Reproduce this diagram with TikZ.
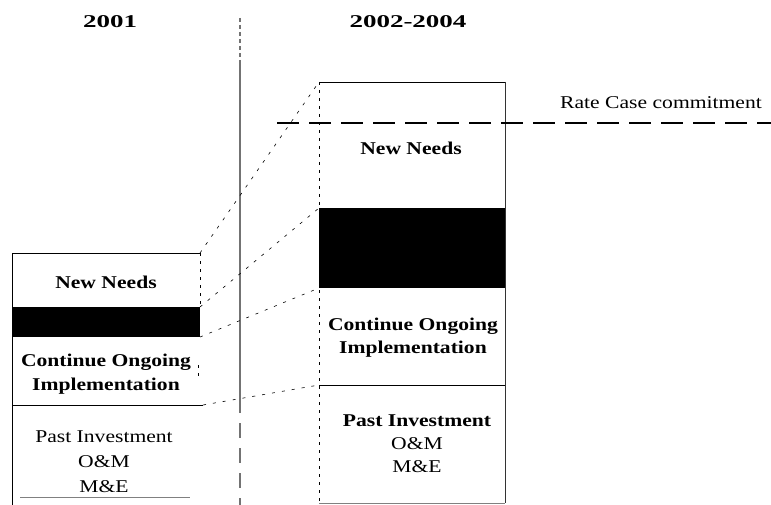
\documentclass[tikz,border=0pt]{standalone}
\usepackage{fontspec}
\setmainfont{Liberation Serif}
\newfontfamily\boxfont[FakeStretch=1.2]{Liberation Serif}
\newfontfamily\yearfont[FakeStretch=1.5]{Liberation Serif}
\usetikzlibrary{calc}

\begin{document}
\begin{tikzpicture}[x=1pt,y=-1pt,
    seg/.style={inner sep=0pt,outer sep=0pt,minimum width=188pt},
    band/.style={seg,fill=black},
    lbl/.style={font=\boxfont\fontsize{18}{24}\selectfont,align=center,inner sep=0pt},
    lblb/.style={lbl,font=\boxfont\bfseries\fontsize{18}{24}\selectfont},
    year/.style={font=\yearfont\bfseries\fontsize{18}{22}\selectfont,inner sep=0pt},
    link/.style={semithick,dash pattern=on 3pt off 7pt},
    frameside/.style={thin,dash pattern=on 3pt off 5pt}]
    \path[use as bounding box] (0,0) rectangle (771,505);

    \node[seg,minimum height=54pt] (lnew) at (106,280) {};
    \node[band,minimum height=30pt] (lband) at (106,322) {};
    \node[seg,minimum height=68pt] (lcont) at (106,371) {};
    \node[seg,minimum height=92pt] (lpast) at (106,451) {};
    \coordinate (lfoot) at (12,505);

    \node[seg,minimum width=186pt,minimum height=126pt] (rnew) at (412,145) {};
    \node[band,minimum width=186pt,minimum height=80pt] (rband) at (412,248) {};
    \node[seg,minimum width=186pt,minimum height=97pt] (rcont) at (412,336.5) {};
    \node[seg,minimum width=186pt,minimum height=118pt] (rpast) at (412,444) {};

    \draw[thick] (lnew.north east) -- (lnew.north west) -- (lfoot);
    \draw[frameside] (lnew.north east) -- (lnew.south east);
    \draw[frameside] ($(lcont.east)+(-2,-6)$) -- ($(lcont.east)+(-2,6)$);
    \draw[thick] (lpast.north west) -- ([xshift=3pt]lpast.north east);
    \draw[gray] ([xshift=8pt]lpast.south west) -- ([xshift=-10pt]lpast.south east);

    \draw[thick] (rnew.north west) -- (rnew.north east);
    \draw[semithick,black!80] (rnew.north east) -- (rpast.south east);
    \draw[frameside] (rnew.north west) -- (rpast.south west);
    \draw[thick] (rpast.north west) -- (rpast.north east);
    \draw[gray] (rpast.south west) -- (rpast.south east);

    \coordinate (dtop) at (240,18);
    \coordinate (dmid1) at (240,62);
    \coordinate (dmid2) at (240,398);
    \coordinate (dfoot) at (240,505);
    \draw[black!55,line width=1.2pt,dash pattern=on 4pt off 3pt] (dtop) -- (dmid1);
    \draw[black!55,line width=1.2pt] (dmid1) -- (dmid2);
    \draw[black!55,line width=1.2pt,dash pattern=on 15pt off 10pt] (dmid2) -- (dfoot);

    \coordinate (rstart) at (277,123);
    \coordinate (rend) at (771,123);
    \draw[line width=2.6pt,dash pattern=on 22pt off 10pt] (rstart) -- (rend);
    \node[lbl] (rlabel) at (661,103) {Rate Case commitment};

    \draw[link] (lnew.north east) -- (rnew.north west);
    \draw[link] (lband.north east) -- (rband.north west);
    \draw[link] (lband.south east) -- (rband.south west);
    \draw[link] ([xshift=3pt]lpast.north east) -- (rpast.north west);

    \node[year] (yleft) at (110,22) {2001};
    \node[year] (yright) at (408,22) {2002-2004};

    \node[lblb] (tlnew) at (106,282) {New Needs};
    \node[lblb] (tlcont) at (106,374) {Continue Ongoing\\Implementation};
    \node[lbl,font=\boxfont\fontsize{18}{25}\selectfont] (tlpast) at (104,462) {Past Investment\\O\&M\\M\&E};

    \node[lblb] (trnew) at (411,148) {New Needs};
    \node[lblb,font=\boxfont\bfseries\fontsize{18}{23}\selectfont] (trcont) at (413,338) {Continue Ongoing\\Implementation};
    \node[lbl,font=\boxfont\fontsize{18}{23}\selectfont] (trpast) at (417,444) {\textbf{Past Investment}\\O\&M\\M\&E};
\end{tikzpicture}
\end{document}
